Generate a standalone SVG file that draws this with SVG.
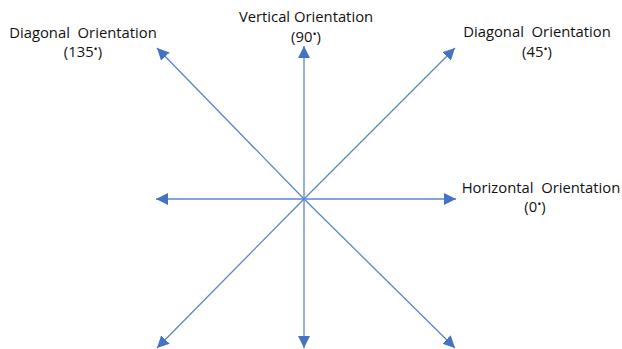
<svg xmlns="http://www.w3.org/2000/svg" width="622" height="349" viewBox="0 0 622 349">
<style>
text{font-family:"Open Sans","Liberation Sans",sans-serif;font-size:14.8px;fill:#111;text-anchor:middle}
.c line{stroke:#5A86CC;stroke-width:1.3}
.d{font-size:11px}
</style>
<defs>
<marker id="ah" viewBox="0 0 10 10" refX="10" refY="5" markerWidth="12" markerHeight="12" markerUnits="userSpaceOnUse" orient="auto">
<path d="M0,0 L10,5 L0,10 z" fill="#4472C4"/>
</marker>
</defs>
<rect width="622" height="349" fill="#fff"/>
<g class="c" id="connectors">
<line x1="304" y1="199" x2="304" y2="46" marker-end="url(#ah)"/>
<line x1="304" y1="199" x2="304" y2="348" marker-end="url(#ah)"/>
<line x1="304" y1="199" x2="156" y2="199" marker-end="url(#ah)"/>
<line x1="304" y1="199" x2="456" y2="199" marker-end="url(#ah)"/>
<line x1="304" y1="199" x2="157" y2="48" marker-end="url(#ah)"/>
<line x1="304" y1="199" x2="455" y2="48" marker-end="url(#ah)"/>
<line x1="304" y1="199" x2="157" y2="348" marker-end="url(#ah)"/>
<line x1="304" y1="199" x2="455" y2="348" marker-end="url(#ah)"/>
</g>
<g id="label-135">
<text x="83" y="38" xml:space="preserve">Diagonal  Orientation</text>
<text x="83" y="57">(135<tspan class="d" dy="-4">•</tspan><tspan dy="4">)</tspan></text>
</g>
<g id="label-90">
<text x="306" y="22">Vertical Orientation</text>
<text x="306" y="42">(90<tspan class="d" dy="-4">•</tspan><tspan dy="4">)</tspan></text>
</g>
<g id="label-45">
<text x="537" y="37" xml:space="preserve">Diagonal  Orientation</text>
<text x="537" y="57">(45<tspan class="d" dy="-4">•</tspan><tspan dy="4">)</tspan></text>
</g>
<g id="label-0">
<text x="541" y="193" xml:space="preserve">Horizontal  Orientation</text>
<text x="535" y="212">(0<tspan class="d" dy="-4">•</tspan><tspan dy="4">)</tspan></text>
</g>
</svg>
